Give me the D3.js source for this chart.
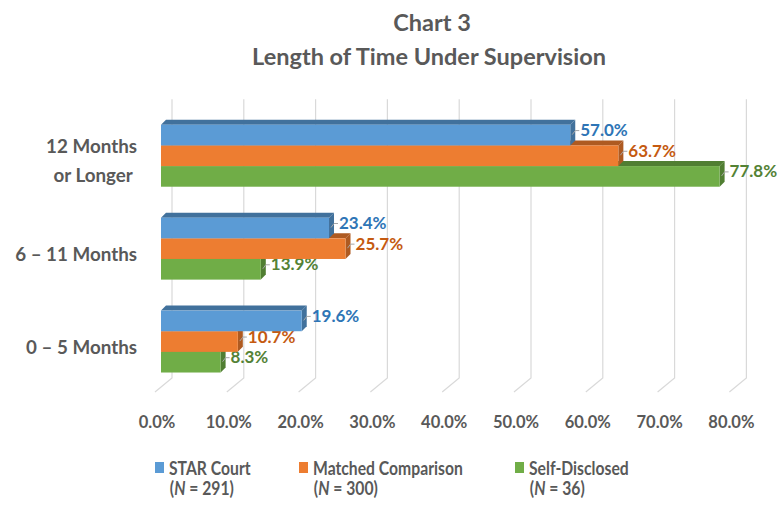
<!DOCTYPE html>
<html>
<head>
<meta charset="utf-8">
<script src="https://cdn.jsdelivr.net/npm/d3@7"></script>
<style>
  html, body { margin: 0; padding: 0; background: #fff; }
  svg { display: block; font-family: Lato, "Open Sans", sans-serif; }
</style>
</head>
<body>
<svg id="chart" width="782" height="506"></svg>
<script>
const categories = [['12 Months', 'or Longer '], ['6 – 11 Months'], ['0 – 5 Months']];
const seriesNames = ['STAR Court', 'Matched Comparison', 'Self-Disclosed'];
const seriesN = [291, 300, 36];
const starCourt = [57.0, 23.4, 19.6];
const matched = [63.7, 25.7, 10.7];
const selfDisclosed = [77.8, 13.9, 8.3];
const tickValues = [0, 10, 20, 30, 40, 50, 60, 70, 80];

const values = [starCourt, matched, selfDisclosed];
const front = ['#5B9BD5', '#ED7D31', '#70AD47'];
const dark = ['#41719C', '#AE5A21', '#507E32'];
const labelColor = ['#2E75B6', '#C55A11', '#548235'];
const grey = '#595959';

const svg = d3.select('#chart');
const catKeys = categories.map((c) => c.join(' '));

/* front plane of the 3d box, back wall is shifted by wallDx/wallDy */
const x = d3.scaleLinear().domain([0, 80]).range([155, 729.4]);
const y = d3.scaleBand().domain(catKeys).range([113.3, 392])
  .paddingInner(1 / 3).paddingOuter(1 / 6);
const ys = d3.scaleBand().domain(seriesNames).range([0, y.bandwidth()]);
const wallDx = 17;
const wallDy = -14;
const barDx = 6;    // bars sit a bit behind the front plane
const barDy = -4;
const depthX = 5;   // bar thickness
const depthY = -5;

/* title */
svg.append('text')
  .attr('x', 432).attr('y', 31)
  .attr('text-anchor', 'middle')
  .attr('font-size', 23.5).attr('font-weight', 'bold').attr('fill', grey)
  .text('Chart 3');
svg.append('text')
  .attr('x', 429).attr('y', 65)
  .attr('text-anchor', 'middle')
  .attr('font-size', 23.5).attr('font-weight', 'bold').attr('fill', grey)
  .text('Length of Time Under Supervision');

/* gridlines: back wall + floor */
const backTop = y.range()[0] + wallDy;
const backBottom = y.range()[1] + wallDy;
svg.append('g').selectAll('path')
  .data(tickValues)
  .join('path')
  .attr('fill', 'none')
  .attr('stroke', '#d9d9d9')
  .attr('stroke-width', 1.2)
  .attr('d', (d) => `M ${x(d) + wallDx} ${backTop}
                     L ${x(d) + wallDx} ${backBottom}
                     L ${x(d)} ${y.range()[1]}`);

/* tick labels */
svg.append('g').selectAll('text')
  .data(tickValues)
  .join('text')
  .attr('x', (d) => x(d) + 2)
  .attr('y', 428)
  .attr('text-anchor', 'middle')
  .attr('font-size', 16.5).attr('font-weight', 'bold').attr('fill', grey)
  .text((d) => d3.format('.1f')(d) + '%');

/* category labels */
const catLabel = svg.append('g').selectAll('text')
  .data(categories)
  .join('text')
  .attr('text-anchor', 'end')
  .attr('font-size', 18.8).attr('font-weight', 'bold').attr('fill', grey)
  .style('white-space', 'pre')
  .attr('transform', (d, i) => `translate(137, ${y(catKeys[i]) + y.bandwidth() / 2 + 8 - (d.length - 1) * 14.5})`);
catLabel.selectAll('tspan')
  .data((d) => d)
  .join('tspan')
  .attr('x', 0)
  .attr('dy', (d, i) => (i ? 29 : 0))
  .text((d) => d);

/* bars, drawn bottom series first so the upper bar covers the lower top face */
const bars = svg.append('g');
catKeys.forEach((cat, ci) => {
  for (let si = seriesNames.length - 1; si >= 0; si--) {
    const v = values[si][ci];
    const x0 = x(0) + barDx;
    const x1 = x(v) + barDx;
    const y0 = y(cat) + ys(seriesNames[si]) + barDy;
    const h = ys.bandwidth();
    const g = bars.append('g');

    g.append('path')
      .attr('fill', dark[si])
      .attr('d', `M ${x0} ${y0} L ${x1} ${y0} L ${x1 + depthX} ${y0 + depthY}
                  L ${x0 + depthX} ${y0 + depthY} Z`);
    g.append('path')
      .attr('fill', dark[si])
      .attr('d', `M ${x1} ${y0} L ${x1 + depthX} ${y0 + depthY}
                  L ${x1 + depthX} ${y0 + h + depthY} L ${x1} ${y0 + h} Z`);
    g.append('rect')
      .attr('x', x0).attr('y', y0)
      .attr('width', x1 - x0).attr('height', h)
      .attr('fill', front[si]);

    const ym = y0 + h / 2 + depthY / 2;
    g.append('path')
      .attr('fill', 'none')
      .attr('stroke', '#a6a6a6')
      .attr('stroke-width', 1)
      .attr('d', `M ${x1 + 2} ${ym + 2} L ${x1 + 5} ${ym - 2} L ${x1 + 9} ${ym - 2}`);
    g.append('text')
      .attr('x', x1 + 10)
      .attr('y', ym + 3.5)
      .attr('font-size', 17).attr('font-weight', 'bold')
      .attr('fill', labelColor[si])
      .text(d3.format('.1f')(v) + '%');
  }
});

/* legend (text squeezed a little to get the narrow look of the original) */
const legendX = [155, 299, 515];
const legend = svg.append('g').selectAll('g')
  .data(seriesNames)
  .join('g')
  .attr('transform', (d, i) => `translate(${legendX[i]}, 461)`);
legend.append('rect')
  .attr('y', 1)
  .attr('width', 9).attr('height', 11)
  .attr('fill', (d, i) => front[i]);
const legendText = legend.append('g')
  .attr('transform', 'translate(14, 0) scale(0.85, 1)')
  .attr('font-size', 18.5).attr('font-weight', 'bold').attr('fill', grey);
legendText.append('text')
  .attr('y', 13.5)
  .text((d) => d);
const nLine = legendText.append('text')
  .attr('x', 1).attr('y', 34);
nLine.append('tspan').text('(');
nLine.append('tspan').attr('font-style', 'italic').text('N');
nLine.append('tspan').text((d, i) => ` = ${seriesN[i]})`);
</script>
</body>
</html>
